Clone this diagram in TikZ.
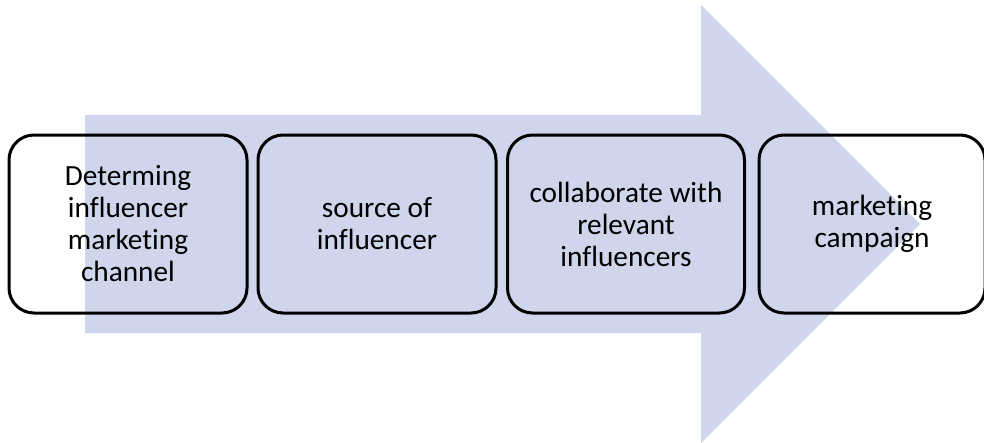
\documentclass[tikz,border=0pt]{standalone}
\usepackage{fontspec}
\setmainfont{Carlito}[Ligatures=NoCommon]
\usepackage{xcolor}
\definecolor{flowfill}{HTML}{CFD5EA}
\definecolor{flowink}{HTML}{000000}
\newcommand{\stagebox}[4]{%
  \node[flowink, draw=flowink, line width=3pt, rounded corners=25pt,
    minimum width=#3, minimum height=178pt, align=center,
    font=\fontsize{29.3}{32}\selectfont] (#1) at (#2,224) {#4};
}

\begin{document}
\begin{tikzpicture}[x=1pt, y=-1pt]

  \useasboundingbox (0,0) rectangle (984,442);

  % broad arrow behind the stages
  \fill[flowfill] (85,115) -- (701,115) -- (701,5) -- (920,224)
    -- (701,443) -- (701,333) -- (85,333) -- cycle;

  \stagebox{channel}{128}{238pt}{Determing\\influencer\\marketing\\channel}
  \stagebox{source}{377}{238pt}{source of\\influencer}
  \stagebox{collab}{626}{237pt}{collaborate with\\relevant\\influencers}
  \stagebox{campaign}{872}{226pt}{marketing\\campaign}

\end{tikzpicture}
\end{document}
